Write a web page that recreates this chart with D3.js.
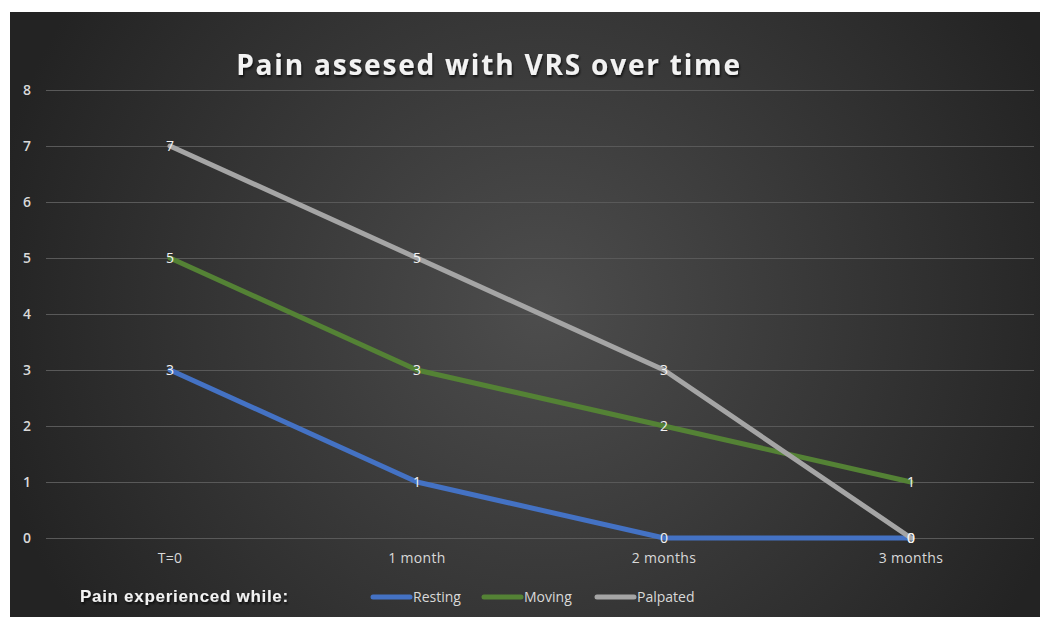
<!DOCTYPE html>
<html><head><meta charset="utf-8">
<script src="https://cdn.jsdelivr.net/npm/d3@7"></script>
<style>body{margin:0;background:#fff}svg{display:block}</style>
</head><body>
<script>
const categories = ["T=0", "1 month", "2 months", "3 months"];
const resting = [3, 1, 0, 0];
const moving = [5, 3, 2, 1];
const palpated = [7, 5, 3, 0];
const yTicks = [0, 1, 2, 3, 4, 5, 6, 7, 8];
const seriesNames = ["Resting", "Moving", "Palpated"];
const seriesColors = ["#4472C4", "#548235", "#A5A5A5"];

const W = 1040, H = 617;
const svg = d3.select("body").append("svg").attr("width", W).attr("height", H);
const defs = svg.append("defs");
const rg = defs.append("radialGradient").attr("id", "bg").attr("gradientUnits", "userSpaceOnUse")
  .attr("cx", 540).attr("cy", 310).attr("r", 560);
rg.append("stop").attr("offset", "0%").attr("stop-color", "#4d4d4d");
rg.append("stop").attr("offset", "100%").attr("stop-color", "#232323");
const sh = defs.append("filter").attr("id", "ts").attr("x", "-10%").attr("y", "-20%").attr("width", "120%").attr("height", "160%");
sh.append("feDropShadow").attr("dx", 1).attr("dy", 2).attr("stdDeviation", 1.2).attr("flood-color", "#000").attr("flood-opacity", 0.7);

svg.append("rect").attr("x", 10).attr("y", 12).attr("width", W - 10).attr("height", H - 12).attr("fill", "url(#bg)");

const x = d3.scaleBand().domain(categories).range([46.5, 1034.5]);
const y = d3.scaleLinear().domain([0, 8]).range([538, 90]);

// gridlines
svg.append("g").selectAll("line").data(yTicks).join("line")
  .attr("x1", 46).attr("x2", 1034)
  .attr("y1", d => Math.round(y(d)) + 0.5).attr("y2", d => Math.round(y(d)) + 0.5)
  .attr("stroke", "#595959").attr("stroke-width", 1);

// y labels
svg.append("g").selectAll("text").data(yTicks).join("text")
  .attr("x", 27).attr("y", d => y(d)).attr("dy", "0.35em")
  .attr("text-anchor", "middle").attr("fill", "#d9d9d9")
  .attr("font-family", "Open Sans, sans-serif").attr("font-size", 14).attr("font-weight", 600)
  .text(d => d);

// x labels
svg.append("g").selectAll("text").data(categories).join("text")
  .attr("x", d => x(d) + x.bandwidth() / 2).attr("y", 563)
  .attr("text-anchor", "middle").attr("fill", "#d9d9d9")
  .attr("font-family", "Open Sans, sans-serif").attr("font-size", 14).attr("letter-spacing", 0.3)
  .text(d => d);

const data = [resting, moving, palpated];
const line = d3.line().x((d, i) => x(categories[i]) + x.bandwidth() / 2).y(d => y(d));
data.forEach((s, k) => {
  svg.append("path").datum(s).attr("d", line).attr("fill", "none")
    .attr("stroke", seriesColors[k]).attr("stroke-width", 5)
    .attr("stroke-linejoin", "round").attr("stroke-linecap", "round");
});
data.forEach((s, k) => {
  svg.append("g").selectAll("text").data(s).join("text")
    .attr("x", (d, i) => x(categories[i]) + x.bandwidth() / 2)
    .attr("y", d => y(d)).attr("dy", "0.36em")
    .attr("text-anchor", "middle").attr("fill", "#f2f2f2")
    .attr("font-family", "Open Sans, sans-serif").attr("font-size", 14)
    .text(d => d);
});

// title
svg.append("text").attr("x", 489).attr("y", 75).attr("text-anchor", "middle")
  .attr("fill", "#f2f2f2").attr("font-family", "Open Sans, sans-serif")
  .attr("font-size", 28).attr("font-weight", 700).attr("letter-spacing", 1.8).attr("filter", "url(#ts)")
  .text("Pain assesed with VRS over time");

// legend
svg.append("text").attr("x", 80).attr("y", 602)
  .attr("fill", "#f2f2f2").attr("font-family", "Liberation Sans, Arial, sans-serif")
  .attr("font-size", 17).attr("font-weight", 700).attr("letter-spacing", 0.7)
  .attr("filter", "url(#ts)")
  .text("Pain experienced while:");
const legX = [373, 484, 597];
const lg = svg.append("g");
seriesNames.forEach((n, k) => {
  lg.append("line").attr("x1", legX[k]).attr("x2", legX[k] + 37)
    .attr("y1", 597).attr("y2", 597).attr("stroke", seriesColors[k])
    .attr("stroke-width", 5).attr("stroke-linecap", "round");
  lg.append("text").attr("x", legX[k] + 40).attr("y", 602)
    .attr("fill", "#d9d9d9").attr("font-family", "Open Sans, sans-serif")
    .attr("font-size", 14).text(n);
});
</script>
</body></html>
